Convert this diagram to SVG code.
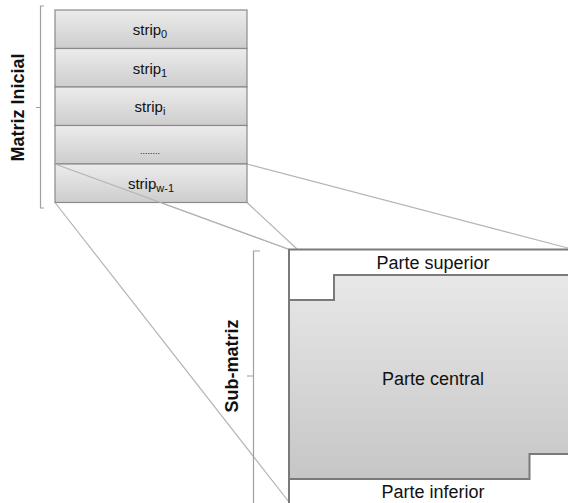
<svg xmlns="http://www.w3.org/2000/svg" width="568" height="503" viewBox="0 0 568 503">
  <style>
    .strip { stroke: #8a8a8a; stroke-width: 1.2; fill: url(#stripFill); }
    .lbl { font-family: "Liberation Sans", Arial, sans-serif; fill: #111; text-anchor: middle; }
    .axis { font-family: "Liberation Sans", Arial, sans-serif; font-weight: bold; font-size: 18px; fill: #111; text-anchor: middle; }
    .brace { fill: none; stroke: #a0a0a0; stroke-width: 1.2; }
    .link { fill: none; stroke: #b4b4b4; stroke-width: 1.2; }
    .edge { fill: none; stroke: #7a7a7a; stroke-width: 2; }
  </style>
  <defs>
    <linearGradient id="stripFill" x1="0" y1="0" x2="0" y2="1">
      <stop offset="0" stop-color="#ececec"/>
      <stop offset="1" stop-color="#cdcdcd"/>
    </linearGradient>
    <linearGradient id="coreFill" gradientUnits="userSpaceOnUse" x1="0" y1="275" x2="0" y2="479">
      <stop offset="0" stop-color="#e8e8e8"/>
      <stop offset="1" stop-color="#c6c6c6"/>
    </linearGradient>
  </defs>

  <rect width="568" height="503" fill="#ffffff"/>

  <!-- zoom lines from the last strip to the sub-matrix -->
  <g id="connectors">
    <line class="link" x1="55" y1="164" x2="288" y2="249"/>
    <line class="link" x1="247" y1="164" x2="568" y2="248"/>
    <line class="link" x1="247" y1="202.5" x2="297" y2="249"/>
    <line class="link" x1="55" y1="202.5" x2="289" y2="502"/>
  </g>

  <!-- initial matrix -->
  <g id="matriz-inicial">
    <path class="brace" d="M44 6 H40.5 V208 H44 M40.5 107.5 H36"/>
    <text class="axis" transform="translate(24 107.5) rotate(-90)">Matriz Inicial</text>
  </g>
  <g id="strip0">
    <rect class="strip" x="55" y="10" width="192" height="38.5"/>
    <text class="lbl" font-size="15" x="150" y="35">strip<tspan font-size="11" dy="3">0</tspan></text>
  </g>
  <g id="strip1">
    <rect class="strip" x="55" y="48.5" width="192" height="38.5"/>
    <text class="lbl" font-size="15" x="150" y="73.5">strip<tspan font-size="11" dy="3">1</tspan></text>
  </g>
  <g id="stripi">
    <rect class="strip" x="55" y="87" width="192" height="38.5"/>
    <text class="lbl" font-size="15" x="150" y="112">strip<tspan font-size="11" dy="3">i</tspan></text>
  </g>
  <g id="strip-dots">
    <rect class="strip" x="55" y="125.5" width="192" height="38.5"/>
    <text class="lbl" font-size="9" x="150" y="154">........</text>
  </g>
  <g id="stripw1">
    <rect class="strip" x="55" y="164" width="192" height="38.5"/>
    <text class="lbl" font-size="15" x="151" y="189">strip<tspan font-size="11" dy="3">w-1</tspan></text>
  </g>
  <!-- redraw the shallow zoom line over the last strip -->
  <line class="link" x1="55" y1="164" x2="288" y2="249"/>

  <!-- sub-matrix -->
  <g id="sub-matriz">
    <path class="brace" d="M260 251 H253.5 V503 M253.5 376 H247"/>
    <text class="axis" transform="translate(238 366) rotate(-90)">Sub-matriz</text>
  </g>
  <g id="parte-central">
    <path d="M289 300 H334 V275 H569 V454 H529.5 V479 H289 Z" fill="url(#coreFill)" stroke="none"/>
    <text class="lbl" font-size="18" x="433" y="385">Parte central</text>
  </g>
  <g id="parte-superior">
    <path class="edge" d="M289 300 V249.5 H569"/>
    <path class="edge" d="M289 300 H334 V275 H569"/>
    <text class="lbl" font-size="18" x="433" y="269">Parte superior</text>
  </g>
  <g id="parte-inferior">
    <path class="edge" d="M289 300 V503"/>
    <path class="edge" d="M289 479 H529.5 V454 H569"/>
    <text class="lbl" font-size="18" x="433" y="498">Parte inferior</text>
  </g>
</svg>
